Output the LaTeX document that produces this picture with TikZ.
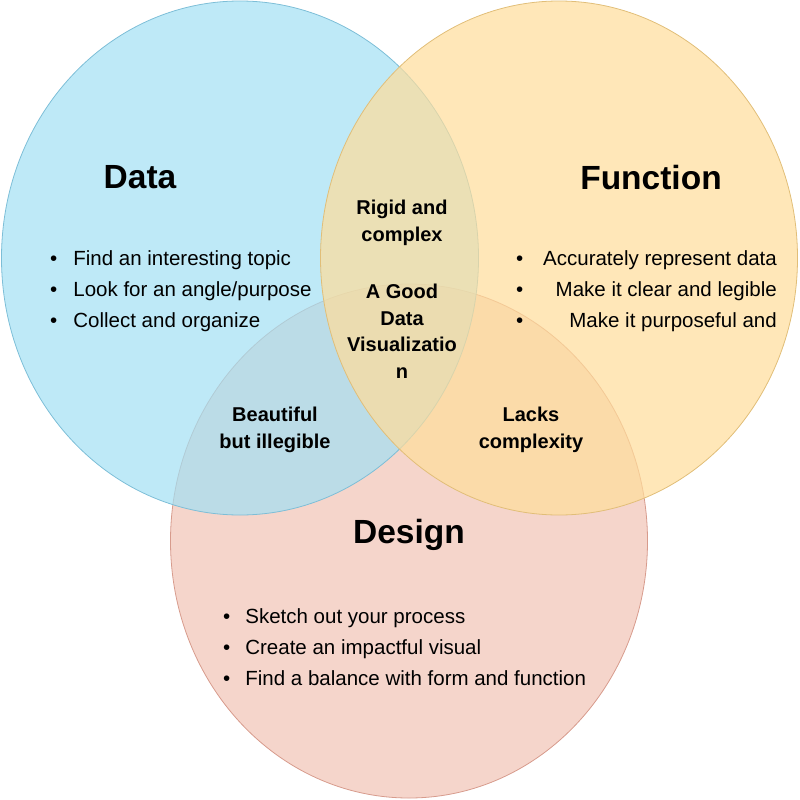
\documentclass[tikz,border=0pt]{standalone}
\usepackage{fontspec}
\setmainfont{Liberation Sans}
\usetikzlibrary{shapes.geometric}

\definecolor{datafill}{RGB}{162,224,244}
\definecolor{funcfill}{RGB}{255,221,154}
\definecolor{designfill}{RGB}{241,195,181}
\definecolor{datadraw}{RGB}{125,190,215}
\definecolor{funcdraw}{RGB}{225,190,120}
\definecolor{designdraw}{RGB}{215,155,140}

\begin{document}
\begin{tikzpicture}[x=1pt, y=-1pt,
	venn/.style={ellipse, minimum width=477pt, minimum height=514pt, inner sep=0pt, line width=0.8pt, fill opacity=0.7},
	title/.style={font=\fontsize{33.5}{40}\selectfont\bfseries},
	overlap/.style={align=center, font=\fontsize{20}{26.5}\selectfont\bfseries},
	items/.style={font=\fontsize{20.5}{31}\selectfont, inner sep=0pt}]
	\useasboundingbox (0,0) rectangle (800,800);

	% the three sets
	\node[venn, fill=designfill, draw=designdraw] (design) at (409,541) {};
	\node[venn, fill=datafill, draw=datadraw] (data) at (240,258) {};
	\node[venn, fill=funcfill, draw=funcdraw] (function) at (559,258) {};

	\node[title] (datat) at (140,177) {Data};
	\node[title] (funct) at (651,178) {Function};
	\node[title] (designt) at (409,535) {Design};

	\node[items, anchor=west] (datal) at (50,290) {\begin{tabular}{@{}l@{\hspace{16pt}}l@{}}
		• & Find an interesting topic\\
		• & Look for an angle/purpose\\
		• & Collect and organize
	\end{tabular}};
	\node[items, anchor=east] (funcl) at (777,290) {\begin{tabular}{@{}l@{\hspace{20pt}}r@{}}
		• & Accurately represent data\\
		• & Make it clear and legible\\
		• & Make it purposeful and
	\end{tabular}};
	\node[items, anchor=west] (designl) at (223,648) {\begin{tabular}{@{}l@{\hspace{15pt}}l@{}}
		• & Sketch out your process\\
		• & Create an impactful visual\\
		• & Find a balance with form and function
	\end{tabular}};

	% overlaps
	\node[overlap] (datafunc) at (402,223) {Rigid and\\complex};
	\node[overlap] (all) at (402,331) {A Good\\Data\\Visualizatio\\n};
	\node[overlap] (datadesign) at (275,430) {Beautiful\\but illegible};
	\node[overlap] (funcdesign) at (531,430) {Lacks\\complexity};
\end{tikzpicture}
\end{document}
